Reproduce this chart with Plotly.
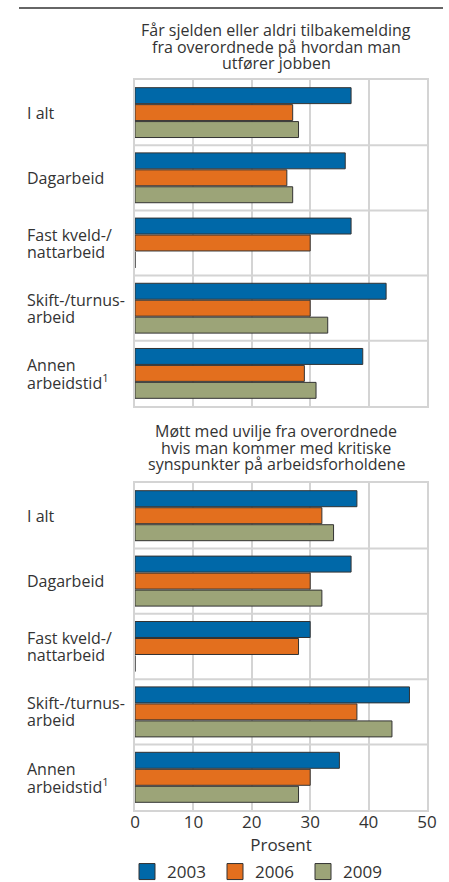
import plotly.graph_objects as go

categories = ["I alt", "Dagarbeid", "Fast kveld-/nattarbeid", "Skift-/turnusarbeid", "Annen arbeidstid1"]
cat_label_lines = [["I alt"], ["Dagarbeid"], ["Fast kveld-/", "nattarbeid"],
                   ["Skift-/turnus-", "arbeid"], ["Annen", "arbeidstid<sup>1</sup>"]]
years = ["2003", "2006", "2009"]

# Panel 1: Får sjelden eller aldri tilbakemelding ...
p1_2003 = [37, 36, 37, 43, 39]
p1_2006 = [27, 26, 30, 30, 29]
p1_2009 = [28, 27, 0, 33, 31]
# Panel 2: Møtt med uvilje fra overordnede ...
p2_2003 = [38, 37, 30, 47, 35]
p2_2006 = [32, 30, 28, 38, 30]
p2_2009 = [34, 32, 0, 44, 28]

title1_lines = ["Får sjelden eller aldri tilbakemelding", "fra overordnede på hvordan man", "utfører jobben"]
title2_lines = ["Møtt med uvilje fra overordnede", "hvis man kommer med kritiske", "synspunkter på arbeidsforholdene"]
x_ticks = [0, 10, 20, 30, 40, 50]

colors = ["#0068a8", "#e36f1e", "#9ca478"]
FONT = "Open Sans"
TXT = "#333333"
W, H = 449, 882

fig = go.Figure()
panels = [(p1_2003, p1_2006, p1_2009), (p2_2003, p2_2006, p2_2009)]
for pi, vals in enumerate(panels):
    xa = "x" if pi == 0 else "x2"
    ya = "y" if pi == 0 else "y2"
    for yi, (yr, v) in enumerate(zip(years, vals)):
        fig.add_trace(go.Bar(
            x=v, y=categories, orientation="h", name=yr,
            marker=dict(color=colors[yi], line=dict(color="#333333", width=1)),
            xaxis=xa, yaxis=ya, showlegend=False, offsetgroup=yr,
        ))
# legend entries with larger square swatches
for yi, yr in enumerate(years):
    fig.add_trace(go.Scatter(
        x=[None], y=[None], mode="markers", name=yr,
        marker=dict(symbol="square", size=16, color=colors[yi], line=dict(color="#333333", width=1)),
        xaxis="x2", yaxis="y2", showlegend=True,
    ))

def py(px):
    return 1 - px / H

xdom = [135 / W, 427 / W]
axis_common = dict(range=[0, 50], tickvals=x_ticks, showgrid=True, gridcolor="#d4d4d4", gridwidth=2,
                   showline=True, linecolor="#d4d4d4", linewidth=2, mirror=True, zeroline=False,
                   fixedrange=True, automargin=False)
yaxis_common = dict(type="category", categoryorder="array", categoryarray=categories,
                    range=[4.5, -0.5], showticklabels=False, showgrid=False, ticks="",
                    showline=True, linecolor="#d4d4d4", linewidth=2, mirror=True, zeroline=False,
                    automargin=False, fixedrange=True)

fig.update_layout(
    width=W, height=H,
    margin=dict(l=0, r=0, t=0, b=0, pad=0, autoexpand=False),
    paper_bgcolor="white", plot_bgcolor="white",
    barmode="group", bargap=0.22, bargroupgap=0.06,
    font=dict(family=FONT, size=16, color=TXT),
    xaxis=dict(domain=xdom, anchor="y", showticklabels=False, **axis_common),
    yaxis=dict(domain=[py(406), py(80)], anchor="x", **yaxis_common),
    xaxis2=dict(domain=xdom, anchor="y2", showticklabels=True, ticks="", ticklabelstandoff=-4,
                tickfont=dict(size=17, color=TXT),
                title=dict(text="Prosent", font=dict(size=17, color=TXT), standoff=0),
                **axis_common),
    yaxis2=dict(domain=[py(810), py(483)], anchor="x2", **yaxis_common),
    legend=dict(orientation="h", x=127 / W, y=py(872), xanchor="left", yanchor="middle",
                font=dict(size=17, color=TXT), traceorder="normal",
                entrywidth=43, entrywidthmode="pixels", tracegroupgap=0,
                itemsizing="trace", bgcolor="rgba(0,0,0,0)"),
    showlegend=True,
)

shapes = []
# top rule
shapes.append(dict(type="line", xref="paper", yref="paper", x0=19 / W, x1=443 / W,
                   y0=py(8), y1=py(8), line=dict(color="#333333", width=1.5)))
# category separators
for ya in ["y", "y2"]:
    xr = "x" if ya == "y" else "x2"
    for k in range(len(categories) - 1):
        shapes.append(dict(type="line", xref=xr, yref=ya, x0=0, x1=50, y0=k + 0.5, y1=k + 0.5,
                           line=dict(color="#d4d4d4", width=2), layer="below"))
fig.update_layout(shapes=shapes)

ann = []
for lines, top in [(title1_lines, 30), (title2_lines, 431)]:
    for i, t in enumerate(lines):
        ann.append(dict(text=t, xref="paper", yref="paper", x=276 / W, y=py(top + i * 16.7),
                        xanchor="center", yanchor="middle", showarrow=False,
                        font=dict(size=16, color=TXT)))
for ya in ["y", "y2"]:
    for c, lines in zip(categories, cat_label_lines):
        n = len(lines)
        for i, t in enumerate(lines):
            shift = (n - 1) * 8.5 - i * 17
            ann.append(dict(text=t, xref="paper", yref=ya, x=25 / W, y=c, yshift=shift,
                            xanchor="left", yanchor="middle", showarrow=False,
                            font=dict(size=16, color=TXT)))
fig.update_layout(annotations=ann)

fig.write_html("out.html", config={"displayModeBar": False},
               post_script="document.body.style.margin='0';document.body.style.overflow='hidden';")
